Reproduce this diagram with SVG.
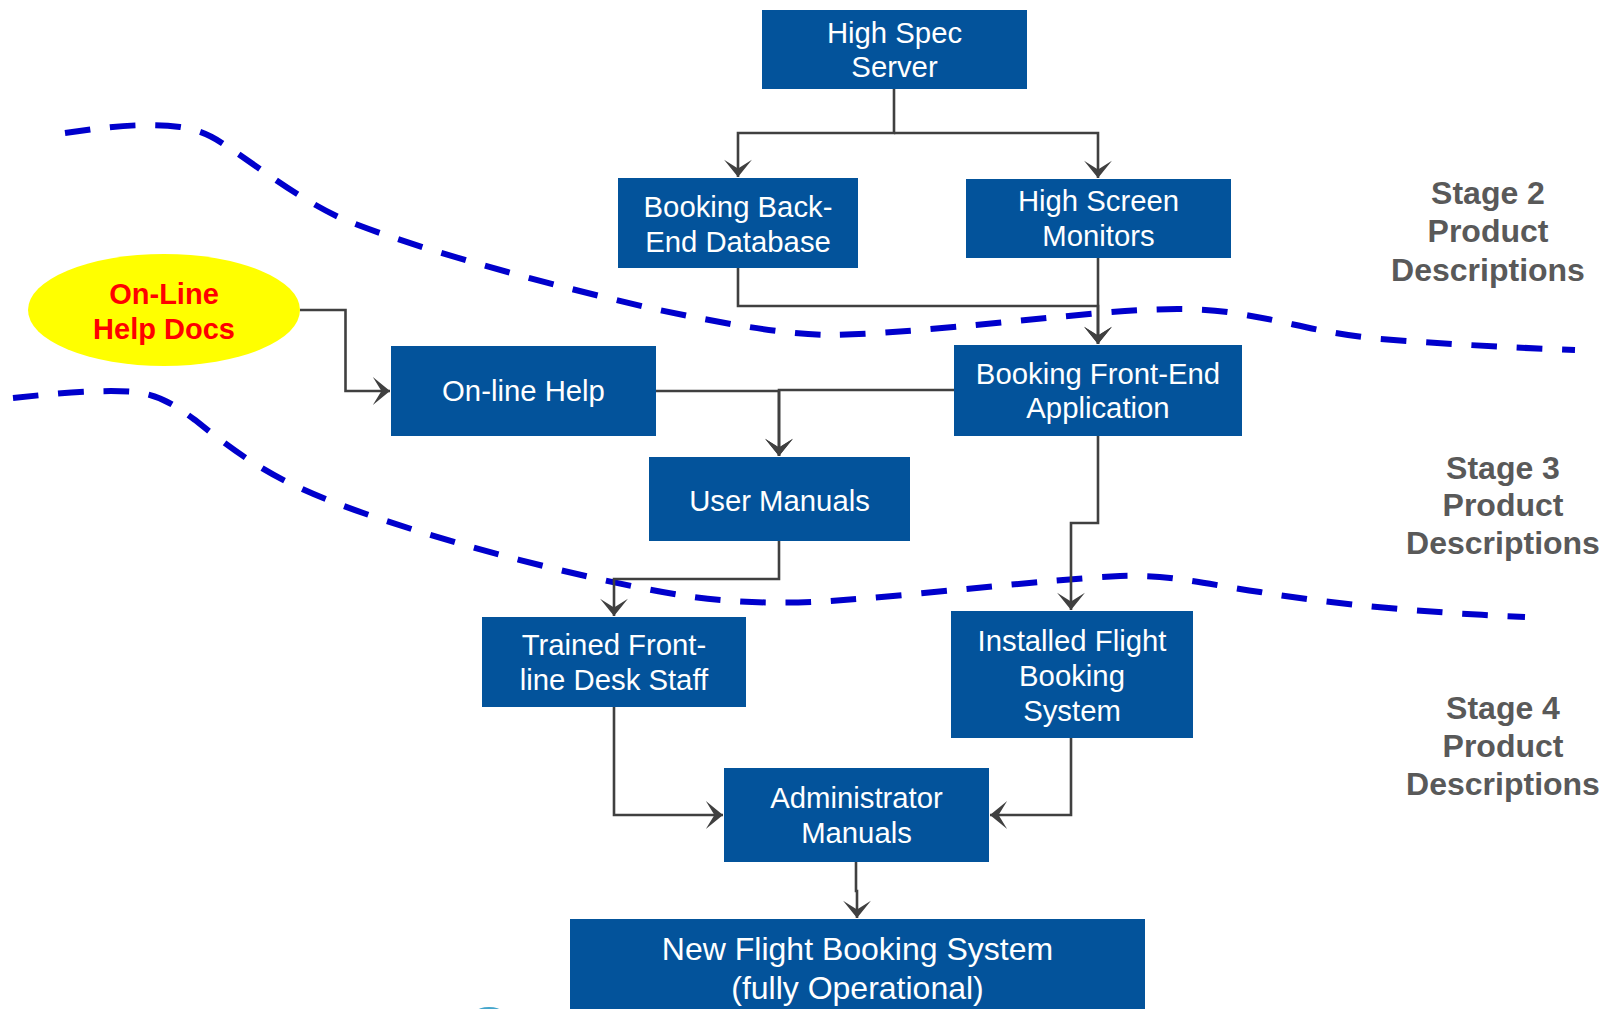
<svg xmlns="http://www.w3.org/2000/svg" width="1610" height="1009" viewBox="0 0 1610 1009">
  <defs>
    <style>
      .box { fill: #03539B; }
      .lbl { font-family: "Liberation Sans", Arial, sans-serif; font-size: 29.3px; fill: #FFFFFF; text-anchor: middle; }
      .big { font-size: 32px; }
      .stage { font-family: "Liberation Sans", Arial, sans-serif; font-size: 32px; font-weight: bold; fill: #595959; text-anchor: middle; }
      .src { font-family: "Liberation Sans", Arial, sans-serif; font-size: 29px; font-weight: bold; fill: #FF0000; text-anchor: middle; }
      .edge { fill: none; stroke: #404040; stroke-width: 2.6; marker-end: url(#arrow); }
      .boundary { fill: none; stroke: #0000CC; stroke-width: 6; stroke-dasharray: 25.6 19.75; }
    </style>
    <marker id="arrow" markerUnits="userSpaceOnUse" markerWidth="20" markerHeight="30" viewBox="-17 -14 18 28" refX="0" refY="0" orient="auto">
      <path d="M0,0 L-16,-13 L-8,0 L-16,13 Z" fill="#404040"/>
    </marker>
  </defs>

  <rect width="1610" height="1009" fill="#FFFFFF"/>

  <!-- stage boundaries -->
  <g id="boundaries">
    <path class="boundary" d="M65,133 C100,128 140,122 180,127 C200,130 212,136 225,145 C260,168 300,200 345,220 C420,250 550,285 650,308 C720,323 780,334 830,335 C900,334 1000,322 1100,313 C1160,308 1200,307 1240,314 C1290,322 1320,333 1380,339 C1460,345 1520,348 1575,350"/>
    <path class="boundary" d="M13,398 C50,394 100,389 135,392 C160,395 175,405 195,420 C230,448 260,470 300,488 C380,525 560,575 680,595 C730,603 780,604 830,601 C930,594 1040,580 1120,576 C1170,574 1210,585 1260,592 C1330,604 1430,613 1525,617"/>
  </g>

  <!-- connectors -->
  <g id="connectors">
    <path class="edge" d="M894,89 V133 H738 V177"/>
    <path class="edge" d="M894,133 H1098 V178"/>
    <path class="edge" d="M738,268 V306 H1098 V344"/>
    <path class="edge" d="M1098,258 V344"/>
    <path class="edge" d="M300,310 H345.5 V391 H390"/>
    <path class="edge" d="M656,391 H779 V456"/>
    <path class="edge" d="M954,390 H779 V456"/>
    <path class="edge" d="M779,541 V579 H614 V616"/>
    <path class="edge" d="M1098,436 V523 H1071 V610"/>
    <path class="edge" d="M614,707 V815 H723"/>
    <path class="edge" d="M1071,738 V815 H990"/>
    <path class="edge" d="M856,862 V891 H857 V918"/>
  </g>

  <!-- nodes -->
  <g id="high-spec-server">
    <rect class="box" x="762" y="10" width="265" height="79"/>
    <text class="lbl" x="894.5" y="43">High Spec</text>
    <text class="lbl" x="894.5" y="77">Server</text>
  </g>
  <g id="booking-back-end-database">
    <rect class="box" x="618" y="178" width="240" height="90"/>
    <text class="lbl" x="738" y="217">Booking Back-</text>
    <text class="lbl" x="738" y="252">End Database</text>
  </g>
  <g id="high-screen-monitors">
    <rect class="box" x="966" y="179" width="265" height="79"/>
    <text class="lbl" x="1098.5" y="211">High Screen</text>
    <text class="lbl" x="1098.5" y="246">Monitors</text>
  </g>
  <g id="online-help-docs">
    <ellipse cx="164" cy="310" rx="136" ry="56" fill="#FFFF00"/>
    <text class="src" x="164" y="304">On-Line</text>
    <text class="src" x="164" y="339">Help Docs</text>
  </g>
  <g id="online-help">
    <rect class="box" x="391" y="346" width="265" height="90"/>
    <text class="lbl" x="523.5" y="401">On-line Help</text>
  </g>
  <g id="booking-front-end-application">
    <rect class="box" x="954" y="345" width="288" height="91"/>
    <text class="lbl" x="1098" y="384">Booking Front-End</text>
    <text class="lbl" x="1098" y="418">Application</text>
  </g>
  <g id="user-manuals">
    <rect class="box" x="649" y="457" width="261" height="84"/>
    <text class="lbl" x="779.5" y="511">User Manuals</text>
  </g>
  <g id="trained-staff">
    <rect class="box" x="482" y="617" width="264" height="90"/>
    <text class="lbl" x="614" y="655">Trained Front-</text>
    <text class="lbl" x="614" y="690">line Desk Staff</text>
  </g>
  <g id="installed-flight-booking-system">
    <rect class="box" x="951" y="611" width="242" height="127"/>
    <text class="lbl" x="1072" y="651">Installed Flight</text>
    <text class="lbl" x="1072" y="686">Booking</text>
    <text class="lbl" x="1072" y="721">System</text>
  </g>
  <g id="administrator-manuals">
    <rect class="box" x="724" y="768" width="265" height="94"/>
    <text class="lbl" x="856.5" y="808">Administrator</text>
    <text class="lbl" x="856.5" y="843">Manuals</text>
  </g>
  <g id="new-flight-booking-system">
    <rect class="box" x="570" y="919" width="575" height="95"/>
    <text class="lbl big" x="857.5" y="960">New Flight Booking System</text>
    <text class="lbl big" x="857.5" y="999">(fully Operational)</text>
  </g>

  <!-- stage captions -->
  <g id="stage-labels">
    <text class="stage" x="1488" y="204">Stage 2</text>
    <text class="stage" x="1488" y="242">Product</text>
    <text class="stage" x="1488" y="281">Descriptions</text>
    <text class="stage" x="1503" y="479">Stage 3</text>
    <text class="stage" x="1503" y="516">Product</text>
    <text class="stage" x="1503" y="554">Descriptions</text>
    <text class="stage" x="1503" y="719">Stage 4</text>
    <text class="stage" x="1503" y="757">Product</text>
    <text class="stage" x="1503" y="795">Descriptions</text>
  </g>

  <ellipse cx="489" cy="1011" rx="12" ry="4" fill="#45A6CC"/>
</svg>
